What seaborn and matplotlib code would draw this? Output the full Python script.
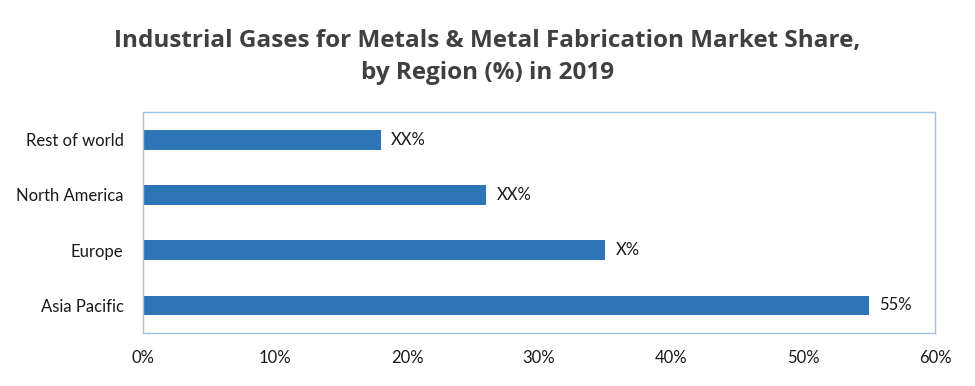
import matplotlib
matplotlib.use("Agg")
import matplotlib.pyplot as plt
import seaborn as sns
import pandas as pd
from matplotlib.ticker import PercentFormatter

regions = ["Rest of world", "North America", "Europe", "Asia Pacific"]
shares = [18, 26, 35, 55]
labels = ["XX%", "XX%", "X%", "55%"]

df = pd.DataFrame({"Region": regions, "Share": shares})

sns.set_style("white")
plt.rcParams["font.family"] = ["Lato", "DejaVu Sans"]

fig = plt.figure(figsize=(9.75, 3.86), dpi=100)
ax = fig.add_axes([0.1467, 0.137, 0.8123, 0.573])

sns.barplot(data=df, x="Share", y="Region", color="#2E75B6", width=0.36,
            saturation=1, linewidth=0, ax=ax)

for i, txt in enumerate(labels):
    ax.text(shares[i] + 0.8, i, txt, va="center", ha="left",
            fontsize=12, color="#1a1a1a")

ax.set_xlim(0, 60)
ax.set_xticks(range(0, 61, 10))
ax.xaxis.set_major_formatter(PercentFormatter(decimals=0))
ax.set_xlabel("")
ax.set_ylabel("")
ax.tick_params(axis="both", labelsize=12, colors="#1a1a1a", length=0)
ax.tick_params(axis="x", pad=12)
ax.tick_params(axis="y", pad=14)

for s in ["top", "right", "bottom"]:
    ax.spines[s].set_color("#9DC3E6")
    ax.spines[s].set_linewidth(1)
ax.spines["left"].set_color("#BFBFBF")
ax.spines["left"].set_linestyle((0, (1, 1)))
ax.spines["left"].set_linewidth(1)

fig.suptitle("Industrial Gases for Metals & Metal Fabrication Market Share,\nby Region (%) in 2019",
             x=0.5, y=0.925, fontsize=17.5, fontweight="bold", color="#404040",
             family=["Open Sans", "DejaVu Sans"], linespacing=1.45)

fig.savefig("out.png", dpi=100)
